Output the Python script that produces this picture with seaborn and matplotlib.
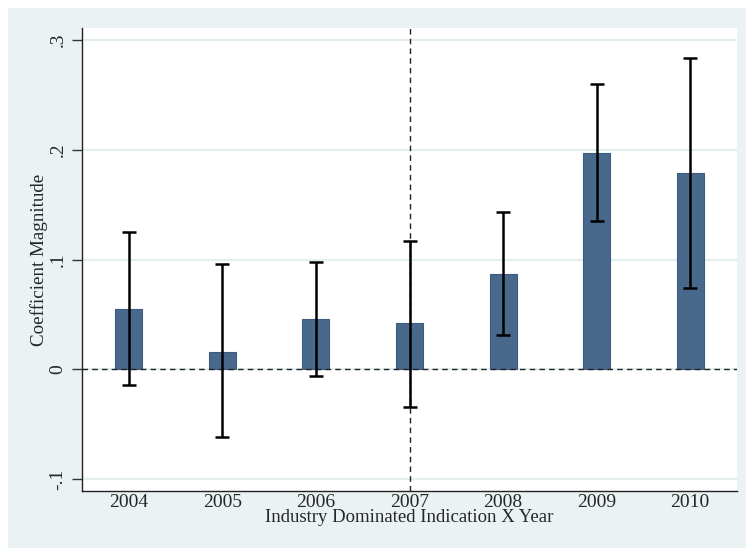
import numpy as np
import pandas as pd
import matplotlib.pyplot as plt
import seaborn as sns
from matplotlib.patches import Rectangle

years = ["2004", "2005", "2006", "2007", "2008", "2009", "2010"]
coef = [0.055, 0.016, 0.046, 0.042, 0.087, 0.197, 0.179]
ci_low = [-0.014, -0.062, -0.006, -0.034, 0.031, 0.135, 0.074]
ci_high = [0.125, 0.096, 0.098, 0.117, 0.143, 0.260, 0.284]
event_year = "2007"

yticks = [-0.1, 0, 0.1, 0.2, 0.3]
ytick_labels = ["-.1", "0", ".1", ".2", ".3"]

sns.set_theme(style="white")
plt.rcParams['font.family'] = ['Liberation Serif', 'DejaVu Serif']

df = pd.DataFrame({"year": years, "coef": coef})

fig = plt.figure(figsize=(7.46, 5.48), dpi=100)
fig.patch.set_facecolor('#eaf2f3')
# thin white strips on top and left, like the cropped Stata export
fig.patches.append(Rectangle((0, 540 / 548), 1, 8 / 548, transform=fig.transFigure,
                             facecolor='white', edgecolor='none', zorder=-10))
fig.patches.append(Rectangle((0, 0), 8 / 746, 1, transform=fig.transFigure,
                             facecolor='white', edgecolor='none', zorder=-10))

ax = fig.add_axes([82 / 746, 57 / 548, 655 / 746, 463 / 548])
ax.set_facecolor('white')

for y in yticks:
    ax.axhline(y, color='#e4edf0', lw=1.5, zorder=0)

sns.barplot(data=df, x="year", y="coef", color='#48698c', width=0.29,
            saturation=1, edgecolor='#3b5c7e', linewidth=0.8, ax=ax, zorder=2)

pos = np.arange(len(years))
c = np.array(coef)
yerr = [c - np.array(ci_low), np.array(ci_high) - c]
ax.errorbar(pos, c, yerr=yerr, fmt='none', ecolor='black', elinewidth=1.8,
            capsize=5, capthick=1.8, zorder=4)

ax.axhline(0, color='#222222', lw=1, ls=(0, (4, 3)), zorder=3)
ax.axvline(years.index(event_year), color='#222222', lw=1, ls=(0, (4, 3)), zorder=3)

ax.set_xlim(-0.5, len(years) - 0.5)
ax.set_ylim(-0.111, 0.311)
ax.set_yticks(yticks)
ax.set_yticklabels(ytick_labels, rotation=90, va='center')

ax.tick_params(axis='y', length=7, width=1, color='#333333', labelsize=14,
               left=True, pad=4)
ax.tick_params(axis='x', length=0, labelsize=14, pad=2)

for s in ['top', 'right']:
    ax.spines[s].set_visible(False)
for s in ['left', 'bottom']:
    ax.spines[s].set_color('#222222')
    ax.spines[s].set_linewidth(1)

ax.set_xlabel("Industry Dominated Indication X Year", fontsize=13.5, labelpad=-1)
ax.set_ylabel("Coefficient Magnitude", fontsize=13.7, labelpad=1)

plt.savefig("out.png", dpi=100, facecolor=fig.get_facecolor())
plt.close()
